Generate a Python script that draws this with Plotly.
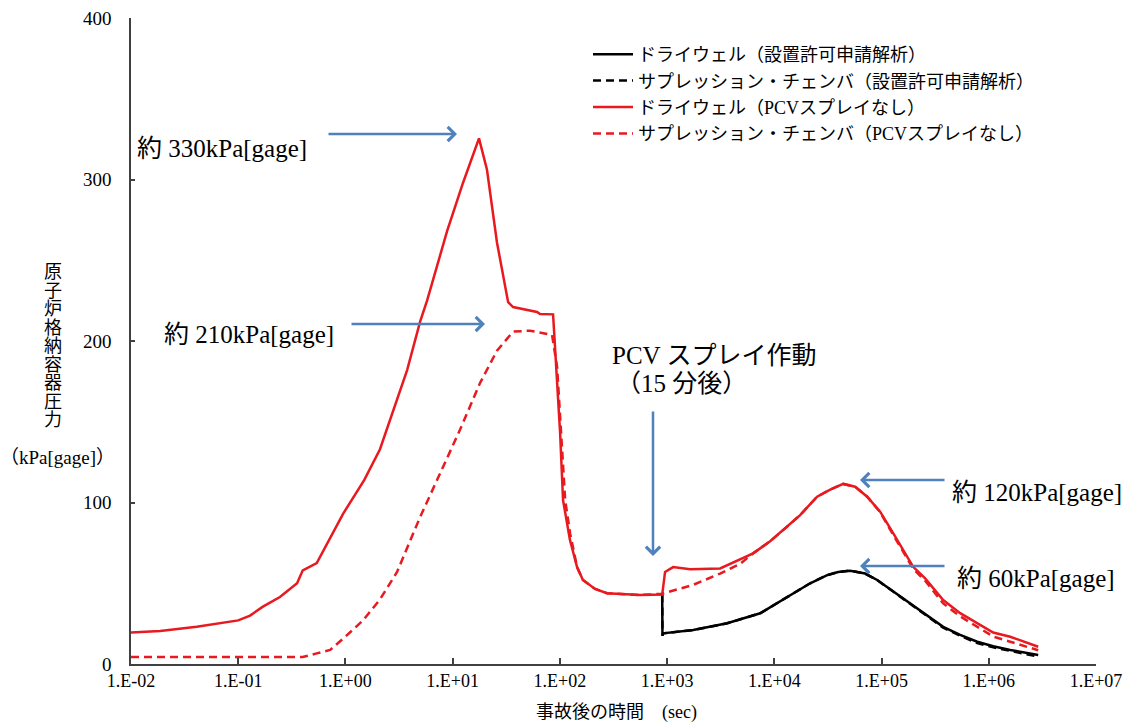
import plotly.graph_objects as go

# ---------------- data ----------------
# Drywell, no PCV spray (red solid)
t_dw_ns = [0.01, 0.0187, 0.041, 0.0676, 0.1, 0.129, 0.17, 0.245, 0.354, 0.40, 0.54, 0.95,
           1.1, 1.5, 2.1, 3.76, 4.97, 5.77, 8.87, 12.5, 17.6, 20.9, 25.9, 32.9, 36.6, 61.2,
           65.3, 86.4, 100.5, 107, 124, 144.6, 164, 213, 275, 560, 900, 957, 1137, 1640,
           3120, 6340, 9140, 13150, 17400, 25060, 33200, 43850, 56700, 73450, 97000,
           128300, 159000, 197200, 255000, 375800, 541000, 780000, 1100000, 1585000,
           2890000]
p_dw_ns = [19.5, 20.5, 23, 25, 27, 30, 35.5, 41.5, 50, 58, 62.5, 93,
           100, 114, 133, 182, 212, 225, 268, 298, 325.5, 306, 261, 224, 221, 218,
           216.7, 216.5, 143, 101.5, 77, 60, 52, 46.5, 43.8, 42.7, 43, 57, 60, 58.6,
           59.2, 68.5, 76, 85, 92.2, 103.6, 108, 111.5, 109.8, 103.6, 94.3,
           81, 70.5, 60.2, 53, 39.6, 31.5, 25.2, 19.5, 16.9,
           10.7]

# Suppression chamber, no PCV spray (red dashed)
t_sc_ns = [0.01, 0.40, 0.54, 0.72, 1.0, 1.46, 2.1, 3.03, 4.97, 6.15, 7.63, 11.7, 18.0,
           25.9, 36.6, 52.7, 84.5, 94.2, 104.8, 112, 124.5, 144.6, 164, 213, 275, 560,
           900, 1750, 3120, 4790, 6340, 9140, 13150, 17400, 25060, 33200, 43850, 56700,
           73450, 97000, 128300, 159000, 197200, 255000, 375800, 541000, 780000,
           1100000, 1585000, 2890000]
p_sc_ns = [4.3, 4.3, 6.6, 8.7, 17, 27, 40, 57, 91, 104, 118, 145, 174,
           194, 205.8, 206.4, 203.7, 184, 132.5, 101.5, 81, 60, 52, 46.5, 43.8, 42.7,
           43.5, 49, 56, 62, 68.5, 76, 85, 92.2, 103.6, 108, 111.5, 109.8,
           103.6, 94, 80, 69.5, 59, 51.5, 37.5, 29.5, 23,
           17, 13.8, 8.5]

# Drywell, licensing analysis (black solid)
t_dw_la = [900, 905, 918, 1750, 3630, 7380, 10600, 14970, 21600, 31100, 39400, 51000,
           70300, 91000, 128300, 185000, 375800, 541000, 780000, 1100000, 1585000, 2890000]
p_dw_la = [43, 17.5, 19, 21, 25.2, 31.4, 37.6, 43.8, 50, 55, 57, 57.8,
           56, 52, 45, 37.6, 23, 18, 13.8, 11, 8.7, 5.6]

# Suppression chamber, licensing analysis (black dashed)
t_sc_la = [900, 905, 918, 1750, 3630, 7380, 10600, 14970, 21600, 31100, 39400, 51000,
           70300, 91000, 128300, 185000, 375800, 541000, 780000, 1100000, 1585000, 2890000]
p_sc_la = [43, 17.5, 19, 21, 25.2, 31.4, 37.6, 43.8, 50, 55, 57, 57.8,
           56, 52, 44.8, 37.3, 22.5, 17.5, 13, 10.3, 8.0, 4.6]

x_tick_vals = [0.01, 0.1, 1, 10, 100, 1000, 1e4, 1e5, 1e6, 1e7]
x_tick_text = ["1.E-02", "1.E-01", "1.E+00", "1.E+01", "1.E+02", "1.E+03",
               "1.E+04", "1.E+05", "1.E+06", "1.E+07"]
y_tick_vals = [0, 100, 200, 300, 400]

names = ["ドライウェル（設置許可申請解析）",
         "サプレッション・チェンバ（設置許可申請解析）",
         "ドライウェル（PCVスプレイなし）",
         "サプレッション・チェンバ（PCVスプレイなし）"]

# ---------------- style ----------------
RED = "#E8191F"
BLACK = "#000000"
BLUE = "#4F81BD"
AX = "#404040"
FONT = "Liberation Serif, Noto Sans CJK JP, serif"
W, H = 1148, 727
L, R, T, B = 131, 1096, 18, 664   # plot area in window pixels


def px(xpix):
    return (xpix - L) / (R - L)


def py(ypix):
    return (B - ypix) / (B - T)


fig = go.Figure()
fig.add_trace(go.Scatter(x=t_dw_la, y=p_dw_la, mode="lines", name=names[0],
                         line=dict(color=BLACK, width=2.5)))
fig.add_trace(go.Scatter(x=t_sc_la, y=p_sc_la, mode="lines", name=names[1],
                         line=dict(color=BLACK, width=2.5, dash="8px,5px")))
fig.add_trace(go.Scatter(x=t_dw_ns, y=p_dw_ns, mode="lines", name=names[2],
                         line=dict(color=RED, width=2.5)))
fig.add_trace(go.Scatter(x=t_sc_ns, y=p_sc_ns, mode="lines", name=names[3],
                         line=dict(color=RED, width=2.5, dash="8px,5px")))

annotations = []
# y-axis title (vertical Japanese)
for i, ch in enumerate("原子炉格納容器圧力"):
    annotations.append(dict(text=ch, x=px(53), y=py(272 + i * 18.5), xref="paper", yref="paper",
                            showarrow=False, font=dict(size=18, family=FONT, color="black"),
                            xanchor="center", yanchor="middle"))
annotations.append(dict(text="（kPa[gage]）", x=px(57), y=py(457), xref="paper", yref="paper",
                        showarrow=False, font=dict(size=19, family=FONT, color="black"),
                        xanchor="center", yanchor="middle"))
# x-axis title
annotations.append(dict(text="事故後の時間　(sec)", x=px(616), y=py(712), xref="paper", yref="paper",
                        showarrow=False, font=dict(size=18, family=FONT, color="black"),
                        xanchor="center", yanchor="middle"))

# labels
labels = [
    ("約 330kPa[gage]", 135, 148),
    ("約 210kPa[gage]", 162, 334),
    ("PCV スプレイ作動", 610, 355),
    ("（15 分後）", 614, 383),
    ("約 120kPa[gage]", 950, 492),
    ("約 60kPa[gage]", 955, 578),
]
for txt, x0, y0 in labels:
    annotations.append(dict(text=txt, x=px(x0), y=py(y0), xref="paper", yref="paper",
                            showarrow=False, font=dict(size=25, family=FONT, color="black"),
                            xanchor="left", yanchor="middle"))

# arrows (head, tail) in window pixels
arrows = [((457, 134), (327, 134)),
          ((485, 324), (350, 324)),
          ((653, 556), (653, 410)),
          ((860, 480), (946, 480)),
          ((860, 566), (946, 566))]
for (hx, hy), (tx, ty) in arrows:
    annotations.append(dict(text="", x=px(hx), y=py(hy), xref="paper", yref="paper",
                            showarrow=True, ax=tx - hx, ay=ty - hy,
                            arrowhead=4, arrowsize=1.1, arrowwidth=2.5, arrowcolor=BLUE,
                            standoff=0, startstandoff=0))

fig.update_layout(
    width=W, height=H,
    margin=dict(l=L, r=W - R, t=T, b=H - B, autoexpand=False),
    paper_bgcolor="white", plot_bgcolor="white",
    font=dict(family=FONT, size=17, color="black"),
    showlegend=True,
    legend=dict(x=px(588), y=py(36), xanchor="left", yanchor="top",
                bgcolor="rgba(0,0,0,0)", font=dict(size=18, family=FONT),
                itemwidth=40, tracegroupgap=0),
    annotations=annotations,
)
fig.update_xaxes(type="log", range=[-2, 7], tickvals=x_tick_vals, ticktext=x_tick_text,
                 showgrid=False, zeroline=False, showline=True, linecolor=AX, linewidth=1.5,
                 ticks="inside", ticklen=6, tickwidth=1.5, tickcolor=AX,
                 tickfont=dict(size=18, family=FONT), mirror=False, ticklabeloverflow="allow")
fig.update_yaxes(range=[0, 400], tickvals=y_tick_vals,
                 showgrid=False, zeroline=False, showline=True, linecolor=AX, linewidth=1.5,
                 ticks="inside", ticklen=4, tickwidth=1.5, tickcolor=AX,
                 tickfont=dict(size=19, family=FONT), ticklabelstandoff=14,
                 ticklabeloverflow="allow")

fig.write_html("out.html", config={"displayModeBar": False},
               post_script="document.body.style.margin='0px';document.body.style.overflow='hidden';")
